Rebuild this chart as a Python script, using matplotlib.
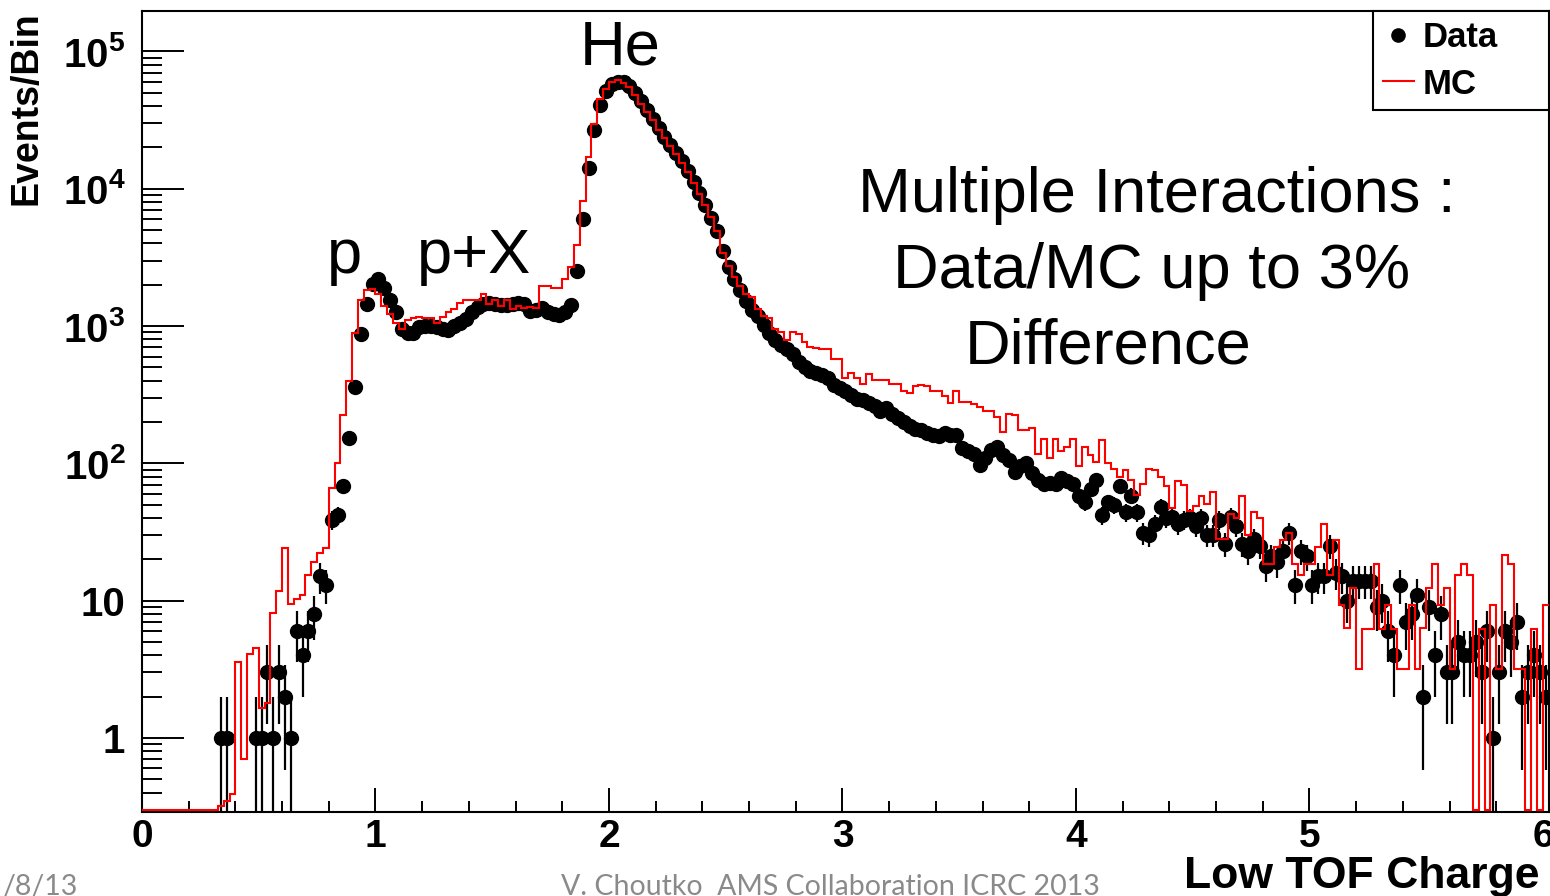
import numpy as np
import matplotlib
matplotlib.use('Agg')
import matplotlib.pyplot as plt
from matplotlib.ticker import FixedLocator, MultipleLocator, LogLocator, NullFormatter
from matplotlib.lines import Line2D

plt.rcParams['font.family'] = ['Liberation Sans', 'DejaVu Sans']
plt.rcParams['mathtext.fontset'] = 'custom'
plt.rcParams['mathtext.rm'] = 'Liberation Sans'
plt.rcParams['mathtext.bf'] = 'Liberation Sans:bold'

# Histogram: Low TOF Charge, bins of 0.025 from 0 to 6.025
bin_width = 0.025
n_bins = 241

# Data (counts per bin)
data_counts = [
    0, 0, 0, 0, 0, 0, 0, 0, 0, 0,
    0, 0, 0, 1, 1, 0, 0, 0, 0, 1,
    1, 3, 1, 3, 2, 1, 6, 4, 6, 8,
    15, 13, 39, 42, 68, 153, 361, 870, 1445, 2040,
    2190, 1905, 1550, 1260, 955, 891, 891, 977, 1000, 1000,
    977, 955, 933, 1000, 1047, 1122, 1259, 1380, 1445, 1479,
    1445, 1413, 1413, 1445, 1479, 1445, 1288, 1318, 1349, 1259,
    1230, 1202, 1259, 1413, 2512, 6026, 14125, 26915, 40738, 51286,
    57544, 60256, 60256, 56234, 50119, 43652, 37154, 32359, 27542, 23988,
    20893, 18197, 15849, 13490, 11220, 9333, 7586, 6166, 4898, 3548,
    2692, 2188, 1820, 1514, 1318, 1175, 1023, 891, 794, 724,
    676, 631, 550, 501, 468, 457, 437, 417, 372, 355,
    339, 316, 295, 288, 275, 263, 240, 251, 229, 214,
    200, 186, 178, 174, 166, 162, 158, 166, 162, 162,
    129, 123, 117, 98, 110, 126, 132, 115, 105, 87,
    95, 100, 85, 76, 71, 72, 71, 78, 74, 71,
    58, 52, 65, 76, 42, 52, 50, 68, 44, 58,
    44, 31, 30, 36, 48, 40, 41, 36, 39, 40,
    35, 40, 30, 30, 39, 26, 41, 35, 26, 23,
    28, 25, 18, 21, 19, 23, 31, 13, 23, 21,
    13, 15, 15, 25, 16, 15, 10, 14, 14, 14,
    14, 9, 10, 6, 4, 13, 7, 8, 11, 2,
    9, 4, 8, 3, 3, 5, 4, 4, 5, 3,
    6, 1, 3, 6, 5, 7, 2, 3, 4, 3,
    2,
]

# MC (normalised, per bin)
mc_counts = [
    0, 0, 0, 0, 0, 0, 0, 0, 0, 0,
    0, 0, 0, 0.32, 0.35, 0.39, 3.6, 0.7, 4.1, 4.5,
    1.65, 1.8, 8.1, 11.7, 24, 9.5, 10.3, 11, 15.4, 19,
    22.4, 24, 66, 100, 225, 400, 890, 1550, 1820, 1860,
    1700, 1410, 1230, 1050, 955, 1100, 1150, 1170, 1150, 1150,
    1050, 1170, 1260, 1320, 1480, 1550, 1550, 1550, 1700, 1450,
    1550, 1410, 1550, 1320, 1410, 1350, 1380, 1350, 1950, 1950,
    1900, 1900, 2190, 2690, 3900, 8130, 17000, 29500, 44700, 53700,
    60300, 61700, 58900, 55000, 47900, 41700, 36300, 31600, 26900, 23400,
    20400, 17800, 15500, 13200, 11000, 9100, 7600, 6200, 4900, 3400,
    2750, 2290, 1950, 1700, 1620, 1320, 1175, 1150, 955, 912,
    794, 912, 871, 759, 708, 692, 676, 676, 575, 575,
    417, 457, 417, 380, 447, 407, 407, 407, 380, 380,
    339, 324, 363, 372, 363, 339, 339, 309, 275, 339,
    282, 282, 269, 257, 240, 240, 219, 170, 229, 224,
    174, 174, 182, 117, 151, 110, 151, 123, 132, 151,
    95, 132, 115, 102, 148, 100, 91, 79, 89, 76,
    59, 71, 91, 89, 79, 68, 47, 74, 69, 45,
    49, 58, 51, 62, 28, 28, 43, 40, 58, 30,
    44, 40, 18.6, 18.6, 24.5, 27.5, 31, 18.6, 15.5, 18.6,
    18.6, 24.5, 36, 15.5, 27.5, 9.3, 6.3, 12.3, 3.2, 6.2,
    6.2, 18.6, 6.2, 9.3, 6.2, 3.2, 3.2, 9.3, 3.2, 6.3,
    12.3, 18.6, 9.3, 12.3, 3.2, 15.5, 18.6, 15.5, 0, 6.2,
    0, 9.3, 3.2, 21.4, 18.6, 3.2, 3.2, 0, 6.2, 0,
    9.3,
]

y_ticks = [1, 10, 1e2, 1e3, 1e4, 1e5]
y_tick_labels = ['1', '10', r'$\mathbf{10^{2}}$', r'$\mathbf{10^{3}}$',
                 r'$\mathbf{10^{4}}$', r'$\mathbf{10^{5}}$']

edges = np.arange(n_bins + 1) * bin_width
centers = edges[:-1] + bin_width / 2
data = np.array(data_counts, dtype=float)
mc = np.array(mc_counts, dtype=float)

fig = plt.figure(figsize=(15.5, 8.96), dpi=100)
ax = fig.add_axes([142 / 1550, 1 - 812 / 896, 1407 / 1550, 801 / 896])
ax.set_yscale('log')
ax.set_xlim(0, 6.026)
ax.set_ylim(0.289, 1.97e5)

# MC histogram (empty bins sit on the frame bottom like ROOT does)
ax.stairs(np.clip(mc, 0.3, None), edges, color='red', lw=1.5, baseline=None, zorder=3)

# data points with poisson errors
has = data > 0
err = np.sqrt(data[has])
low = np.minimum(err, data[has] - 1e-3)
ax.errorbar(centers[has], data[has], yerr=[low, err], fmt='o', color='black',
            ms=10, elinewidth=1.6, capsize=0, zorder=2)

# axes styling ROOT-like
for s in ax.spines.values():
    s.set_linewidth(1.5)
ax.yaxis.set_major_locator(FixedLocator(y_ticks))
ax.set_yticklabels(y_tick_labels)
ax.yaxis.set_minor_locator(LogLocator(base=10, subs=np.arange(2, 10)))
ax.yaxis.set_minor_formatter(NullFormatter())
ax.xaxis.set_major_locator(MultipleLocator(1))
ax.xaxis.set_minor_locator(MultipleLocator(0.2))
ax.tick_params(axis='both', which='both', direction='in', width=1.4,
               top=False, right=False)
ax.tick_params(axis='y', which='major', length=30, pad=12, labelsize=29)
ax.tick_params(axis='y', which='minor', length=14.5)
ax.tick_params(axis='x', which='major', length=17, pad=5, labelsize=28)
ax.tick_params(axis='x', which='minor', length=8)
for lab in ax.get_xticklabels() + ax.get_yticklabels():
    lab.set_fontweight('bold')

ax.set_xlabel('Low TOF Charge', loc='right', fontsize=32, fontweight='bold')
ax.xaxis.set_label_coords(0.9936, -0.095)
ax.xaxis.label.set_verticalalignment('baseline')
ax.set_ylabel('Events/Bin', loc='top', fontsize=27, fontweight='bold')
ax.yaxis.set_label_coords(-0.0824, 1.0)
ax.yaxis.label.set_verticalalignment('center')

# annotations
txt = dict(fontsize=45.5, va='baseline', ha='left')
ax.text(1.876, 8.0e4, 'He', **txt)
ax.text(0.792, 2440, 'p', **txt)
ax.text(1.178, 2440, 'p+X', **txt)
ax.text(3.066, 6760, 'Multiple Interactions :', **txt)
ax.text(3.216, 1895, 'Data/MC up to 3%', **txt)
ax.text(3.525, 530, 'Difference', **txt)

# legend
h_data = Line2D([], [], marker='o', color='black', ls='none', ms=9.5)
h_mc = Line2D([], [], color='red', lw=1.5)
leg = ax.legend([h_data, h_mc], ['Data', 'MC'], loc='upper left',
                bbox_to_anchor=(0.8749, 0.8752, 0.1251, 0.1248), mode='expand',
                borderaxespad=0, prop={'weight': 'bold', 'size': 25},
                fancybox=False, edgecolor='black', framealpha=1,
                handlelength=0.9, handletextpad=0.25, borderpad=0.28,
                labelspacing=0.4)
leg.get_frame().set_linewidth(1.5)

# slide footer
foot = dict(color='#8a8a8a', fontsize=20.5, family=['Lato', 'DejaVu Sans'], va='baseline')
fig.text(0.0015, 0.001, '/8/13', ha='left', **foot)
fig.text(830 / 1550, 0.001, 'V. Choutko  AMS Collaboration ICRC 2013', ha='center', **foot)

fig.savefig('out.png', dpi=100)
